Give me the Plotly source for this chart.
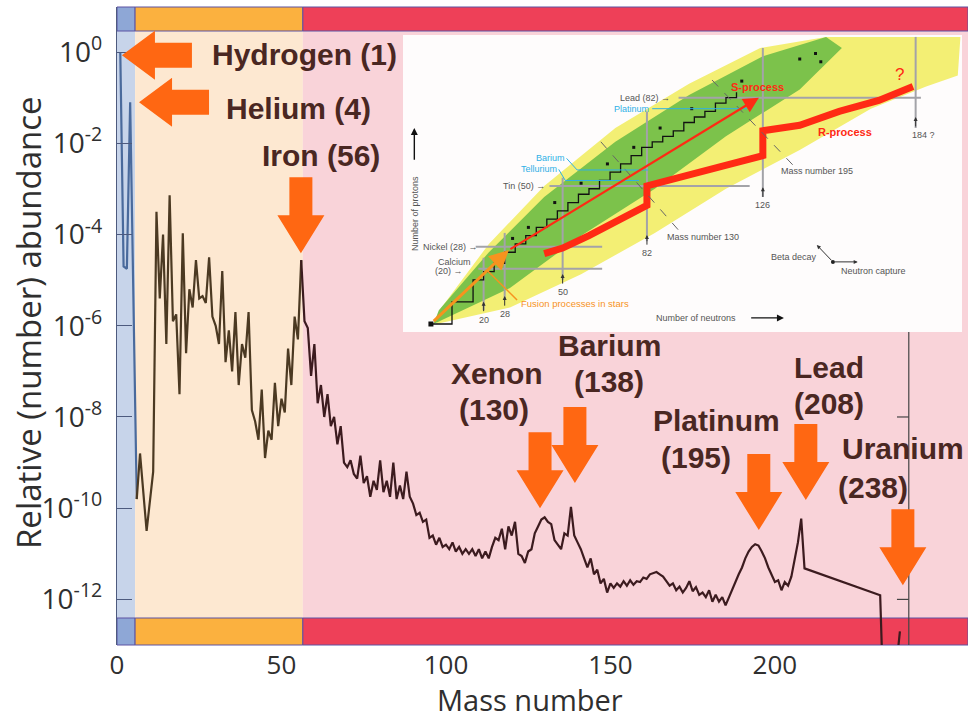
import plotly.graph_objects as go

# ---------------------------------------------------------------------------
# Solar-system abundances: log10(number abundance relative to hydrogen)
# ---------------------------------------------------------------------------
mass_number = [
    1, 2, 3, 4, 6, 7, 9, 10, 11, 12, 13, 14, 15, 16, 17, 18, 19, 20,
    21, 22, 23, 24, 25, 26, 27, 28, 29, 30, 31, 32, 33, 34, 35, 36, 37, 38, 39, 40,
    41, 42, 43, 44, 45, 46, 47, 48, 49, 50, 51, 52, 53, 54, 55, 56, 57, 58, 59, 60,
    61, 62, 63, 64, 65, 66, 67, 68, 69, 70, 71, 72, 73, 74, 75, 76, 77, 78, 79, 80,
    81, 82, 83, 84, 85, 86, 87, 88, 89, 90, 91, 92, 93, 94, 95, 96, 97, 98, 99, 100,
    101, 102, 103, 104, 105, 106, 107, 108, 109, 110, 111, 112, 113, 114, 115, 116, 117, 118, 119, 120,
    121, 122, 123, 124, 125, 126, 127, 128, 129, 130, 131, 132, 133, 134, 135, 136, 137, 138, 139, 140,
    141, 142, 143, 144, 145, 146, 147, 148, 149, 150, 151, 152, 153, 154, 155, 156, 157, 158, 159, 160,
    161, 162, 163, 164, 165, 166, 167, 168, 169, 170, 171, 172, 173, 174, 175, 176, 177, 178, 179, 180,
    181, 182, 183, 184, 185, 186, 187, 188, 189, 190, 191, 192, 193, 194, 195, 196, 197, 198, 199, 200,
    201, 202, 203, 204, 205, 206, 207, 208, 209, 232, 234, 235, 238,
]
log_abundance = [
    0.0, -4.7, -4.75, -1.1, -9.8, -8.8, -10.5, -9.9, -9.2, -3.5, -5.4, -4.0, -6.4, -3.14, -5.9, -5.75, -7.5, -3.97,
    -6.6, -5.2, -5.6, -4.56, -5.4, -5.35, -5.5, -4.5, -5.8, -6.0, -6.4, -4.8, -6.8, -6.1, -7.0, -5.7, -7.3, -6.4, -6.7, -5.7,
    -7.85, -8.1, -8.5, -7.4, -8.9, -8.3, -8.5, -7.25, -8.2, -7.6, -7.9, -6.5, -7.3, -5.8, -6.3, -4.56, -5.9, -6.05, -7.1, -6.4,
    -7.7, -7.3, -8.0, -7.5, -8.2, -8.0, -8.6, -8.2, -9.0, -9.1, -8.95, -9.25, -9.35, -8.85, -9.45, -9.3, -9.75, -9.4, -9.6, -8.95,
    -9.65, -9.4, -9.75, -9.0, -9.8, -9.5, -9.8, -9.2, -9.75, -9.9, -10.15, -10.1, -10.3, -10.25, -10.65, -10.6, -10.8, -10.65, -10.85, -10.8,
    -10.9, -10.75, -10.95, -10.85, -11.0, -10.9, -11.0, -10.9, -11.05, -10.9, -11.1, -10.95, -11.1, -10.85, -10.65, -10.7, -10.45, -10.9, -10.4, -10.6,
    -10.3, -11.0, -11.05, -11.2, -10.95, -10.9, -10.55, -10.4, -10.25, -10.2, -10.3, -10.35, -10.7, -10.8, -10.9, -10.55, -10.6, -9.97, -10.6, -10.75,
    -10.9, -11.1, -11.3, -11.1, -11.45, -11.35, -11.65, -11.55, -11.85, -11.65, -11.75, -11.65, -11.72, -11.6, -11.7, -11.58, -11.68, -11.6, -11.62, -11.52,
    -11.55, -11.45, -11.42, -11.4, -11.45, -11.5, -11.6, -11.7, -11.65, -11.8, -11.72, -11.85, -11.75, -11.6, -11.82, -11.73, -11.9, -11.85, -11.95, -11.8,
    -12.05, -11.9, -12.05, -11.95, -12.13, -11.95, -11.8, -11.6, -11.45, -11.3, -11.1, -10.95, -10.85, -10.79, -10.82, -10.95, -11.1, -11.3, -11.45, -11.62,
    -11.58, -11.8, -11.62, -11.7, -11.5, -11.1, -10.75, -10.23, -11.32, -11.91, -16.5, -14.8, -12.7,
]
abundance = [10 ** v for v in log_abundance]

# nucleosynthesis regions along the mass axis: Big Bang, fusion in stars, neutron capture
region_edges = [0, 5.5, 56.5, 258.7]
region_fill = ["#c7d4ea", "#fde8d1", "#f9d3d9"]
region_band = ["#8ea7d6", "#fbb13f", "#ee4058"]

# labelled elements: name, mass number, arrow tip (mass, log10 abundance), arrow direction
callouts = [
    ("Hydrogen (1)", 1, (1.5, -0.07), "left"),
    ("Helium (4)", 4, (6.7, -1.1), "left"),
    ("Iron (56)", 56, (55.9, -4.41), "down"),
    ("Xenon (130)", 130, (128.6, -10.0), "down"),
    ("Barium (138)", 138, (139.2, -9.45), "down"),
    ("Platinum (195)", 195, (195.1, -10.48), "down"),
    ("Lead (208)", 208, (209.4, -9.82), "down"),
    ("Uranium (238)", 238, (238.9, -11.69), "down"),
]

y_tick_exponents = [0, -2, -4, -6, -8, -10, -12]
x_tick_values = [0, 50, 100, 150, 200]

# ---------------------------------------------------------------------------
# Nuclide-chart inset (neutron number N vs proton number Z)
# ---------------------------------------------------------------------------
broad_band_N = [2, 30, 57, 85, 112, 140, 167, 188, 200, 201, 150, 125, 98, 70, 43, 22, 4]
broad_band_Z = [0, 6, 18, 33, 49, 63, 78, 86, 90, 104, 104, 100, 87, 71, 50, 29, 6]
known_band_N = [1, 30, 57, 85, 112, 140, 156, 150, 126, 98, 70, 43, 22, 3]
known_band_Z = [0, 13, 32, 49, 68, 85, 100, 104, 97, 83, 66, 46, 26, 5]
stable_N = [0, 8, 16, 20, 24, 28, 32, 36, 40, 44, 48, 52, 56, 60, 64, 68, 72, 76, 80, 84, 88, 92, 96, 100, 104, 108, 112, 116]
stable_Z = [0, 8, 16, 19, 22, 26, 29, 32, 35, 38, 41, 44, 47, 49, 52, 55, 58, 61, 64, 66, 68, 70, 73, 75, 77, 80, 82, 84]
stable_dot_N = [31, 37, 47, 57, 67, 77, 87, 99, 140, 146, 148, 118]
stable_dot_Z = [31, 35, 44, 51, 58, 64, 71, 78, 96, 98, 95, 88]
r_path_N = [43, 50, 60, 70, 82, 82, 95, 110, 126, 126, 140, 155, 170, 183]
r_path_Z = [25.5, 27.5, 32, 37, 43, 50, 53, 57, 61, 70, 72, 77, 81, 86]
magic_numbers = [20, 28, 50, 82, 126, 184]

# ---------------------------------------------------------------------------
# geometry
# ---------------------------------------------------------------------------
W, H = 968, 720
ML, MR, MT, MB = 117, 0, 7, 75
PW, PH = W - ML - MR, H - MT - MB
X_RANGE = [region_edges[0], region_edges[-1]]
Y_RANGE = [-13.0, 0.99]


def data_px(a, lg):
    x = ML + (a - X_RANGE[0]) / (X_RANGE[1] - X_RANGE[0]) * PW
    y = MT + (Y_RANGE[1] - lg) / (Y_RANGE[1] - Y_RANGE[0]) * PH
    return x, y


def paper(x, y):
    return (x - ML) / PW, (H - MB - y) / PH


def block_arrow(tip, direction, length, shaft_w, head_w, head_len):
    tx, ty = tip
    if direction == "left":
        ux, uy = 1.0, 0.0
    else:
        ux, uy = 0.0, -1.0
    nx, ny = -uy, ux
    hx, hy = tx + ux * head_len, ty + uy * head_len
    ex, ey = tx + ux * length, ty + uy * length
    pts = [
        (tx, ty),
        (hx + nx * head_w / 2, hy + ny * head_w / 2),
        (hx + nx * shaft_w / 2, hy + ny * shaft_w / 2),
        (ex + nx * shaft_w / 2, ey + ny * shaft_w / 2),
        (ex - nx * shaft_w / 2, ey - ny * shaft_w / 2),
        (hx - nx * shaft_w / 2, hy - ny * shaft_w / 2),
        (hx - nx * head_w / 2, hy - ny * head_w / 2),
    ]
    pp = [paper(x, y) for x, y in pts]
    return "M " + " L ".join(f"{x:.5f},{y:.5f}" for x, y in pp) + " Z"


fig = go.Figure()

# abundance curve, coloured by production site
segments = [
    (1, 6, "#4a6a9c"),
    (6, 56, "#4b3922"),
    (56, 238, "#3c1b1f"),
]
for lo, hi, col in segments:
    xs = [a for a in mass_number if lo <= a <= hi]
    ys = [v for a, v in zip(mass_number, abundance) if lo <= a <= hi]
    fig.add_trace(go.Scatter(x=xs, y=ys, mode="lines", line=dict(color=col, width=2.2),
                             showlegend=False, hoverinfo="skip"))

shapes = []
for i in range(3):
    x0, x1 = region_edges[i], region_edges[i + 1]
    shapes.append(dict(type="rect", xref="x", yref="paper", x0=x0, x1=x1, y0=0, y1=1,
                       fillcolor=region_fill[i], line=dict(width=0), layer="below"))
top_lo = paper(0, 31)[1]
bot_hi = paper(0, 618)[1]
for i in range(3):
    x0, x1 = region_edges[i], region_edges[i + 1]
    for y0, y1 in [(top_lo, 1.0), (0.0, bot_hi)]:
        shapes.append(dict(type="rect", xref="x", yref="paper", x0=x0, x1=x1, y0=y0, y1=y1,
                           fillcolor=region_band[i], line=dict(color="#5c53a3", width=1),
                           layer="below"))

# right-hand axis fragment
rx = 240.7
shapes.append(dict(type="line", xref="x", yref="paper", x0=rx, x1=rx,
                   y0=0, y1=paper(0, 320)[1], line=dict(color="#444", width=1.2), layer="below"))
for e in (-8, -12):
    yy = paper(0, data_px(0, e)[1])[1]
    shapes.append(dict(type="line", xref="x", yref="paper", x0=rx - 3.6, x1=rx, y0=yy, y1=yy,
                       line=dict(color="#444", width=1.2), layer="below"))

# inset panel
ix0, iy1 = paper(403, 35)
ix1, iy0 = paper(962, 332)
shapes.append(dict(type="rect", xref="paper", yref="paper", x0=ix0, x1=ix1, y0=iy0, y1=iy1,
                   fillcolor="#fefcfc", line=dict(width=0), layer="below"))

# block arrows
ARROW_ORANGE = "#ff6712"
for name, a, tip, direction in callouts:
    tpx = data_px(*tip)
    if direction == "left":
        path = block_arrow(tpx, "left", 70, 25, 49, 33)
    else:
        path = block_arrow(tpx, "down", 76, 23, 47, 38)
    shapes.append(dict(type="path", path=path, xref="paper", yref="paper",
                       fillcolor=ARROW_ORANGE, line=dict(width=0), layer="above"))

annotations = []
LABEL_FONT = dict(family="Liberation Sans, Arial", size=30, color="#4a2722")
label_lines = [
    ("<b>Hydrogen (1)</b>", 304, 55),
    ("<b>Helium (4)</b>", 298, 108),
    ("<b>Iron (56)</b>", 321, 155),
    ("<b>Xenon</b>", 497, 374),
    ("<b>(130)</b>", 494, 409),
    ("<b>Barium</b>", 609, 346),
    ("<b>(138)</b>", 609, 381),
    ("<b>Platinum</b>", 716, 421),
    ("<b>(195)</b>", 696, 457),
    ("<b>Lead</b>", 829, 367),
    ("<b>(208)</b>", 829, 403),
    ("<b>Uranium</b>", 903, 449),
    ("<b>(238)</b>", 873, 487),
]
for txt, x, y in label_lines:
    px_, py_ = paper(x, y)
    annotations.append(dict(text=txt, x=px_, y=py_, xref="paper", yref="paper",
                            xanchor="center", yanchor="middle", showarrow=False, font=LABEL_FONT))

AXIS_FONT = dict(family="Open Sans", size=33, color="#2f2f2f")
tx_, ty_ = paper(530, 699)
annotations.append(dict(text="Mass number", x=tx_, y=ty_, xref="paper", yref="paper",
                        showarrow=False, xanchor="center", yanchor="middle", font=dict(AXIS_FONT, size=29)))
tx_, ty_ = paper(28, 323)
annotations.append(dict(text="Relative (number) abundance", x=tx_, y=ty_, xref="paper", yref="paper",
                        showarrow=False, xanchor="center", yanchor="middle", textangle=-90,
                        font=AXIS_FONT))

# ---------------- inset contents ----------------
inset = dict(xaxis="x2", yaxis="y2", showlegend=False, hoverinfo="skip")
fig.add_trace(go.Scatter(x=broad_band_N, y=broad_band_Z, fill="toself", fillcolor="#f3ef74",
                         mode="lines", line=dict(width=0), **inset))
fig.add_trace(go.Scatter(x=known_band_N, y=known_band_Z, fill="toself", fillcolor="#7cc24b",
                         mode="lines", line=dict(width=0), **inset))

# magic-number guide lines
mag_h = [(20, 18, 65), (28, 17, 65), (50, 45, 121), (82, 94, 186)]
mag_v = [(20, 5, 24), (28, 9, 33), (50, 16, 53), (82, 30, 77), (126, 46, 100), (184, 71, 104)]
gx, gy = [], []
for z, n0, n1 in mag_h:
    gx += [n0, n1, None]
    gy += [z, z, None]
for n, z0, z1 in mag_v:
    gx += [n, n, None]
    gy += [z0, z1, None]
fig.add_trace(go.Scatter(x=gx, y=gy, mode="lines", line=dict(color="#a3a3a8", width=2), **inset))

fig.add_trace(go.Scatter(x=stable_N, y=stable_Z, mode="lines", line=dict(color="#111", width=1.3, shape="hv"),
                         **inset))
fig.add_trace(go.Scatter(x=stable_dot_N, y=stable_dot_Z, mode="markers",
                         marker=dict(color="#111", size=3, symbol="square"), **inset))
fig.add_trace(go.Scatter(x=r_path_N, y=r_path_Z, mode="lines", line=dict(color="#ff2a14", width=7), **inset))

# mass-number diagonals
fig.add_trace(go.Scatter(x=[64.5, 94, None, 106.7, 137.4], y=[66, 34, None, 88.4, 57.6], mode="lines",
                         line=dict(color="#666", width=1, dash="dash"), **inset))
# cyan pointers
fig.add_trace(go.Scatter(x=[84, 120, None, 51.5, 55.5, 82.5, None, 48.5, 51, 79],
                         y=[78, 78, None, 60, 55.8, 55.8, None, 56, 52, 52], mode="lines",
                         line=dict(color="#2fb0e6", width=1), **inset))
# fusion pointer
fig.add_trace(go.Scatter(x=[32.7, 21.6], y=[8.7, 19.2], mode="lines",
                         line=dict(color="#f7931e", width=1.5), **inset))

SMALL = dict(family="Liberation Sans, Arial", size=9, color="#555")


def inset_text(text, n, z, anchor="center", font=SMALL, angle=0):
    annotations.append(dict(text=text, x=n, y=z, xref="x2", yref="y2", showarrow=False,
                            xanchor=anchor, yanchor="middle", font=font, textangle=angle))


def inset_arrow(n0, z0, n1, z1, color, width, head=2, size=1.0):
    annotations.append(dict(x=n1, y=z1, ax=n0, ay=z0, xref="x2", yref="y2", axref="x2", ayref="y2",
                            text="", showarrow=True, arrowhead=head, arrowsize=size,
                            arrowwidth=width, arrowcolor=color))


inset_arrow(0.5, 0.5, 29.6, 26.8, "#f7931e", 3, head=2, size=1.3)
inset_arrow(29.6, 26.8, 124.5, 82, "#ff2a14", 2.2, head=2, size=1.4)

inset_text("Lead (82) →", 91.5, 82, "right")
inset_text("Platinum", 83.5, 78, "right", dict(SMALL, color="#2fb0e6"))
inset_text("Barium", 51.5, 60, "right", dict(SMALL, color="#2fb0e6"))
inset_text("Tellurium", 48.5, 56, "right", dict(SMALL, color="#2fb0e6"))
inset_text("Tin (50) →", 44, 50, "right")
inset_text("Nickel (28) →", 18.6, 28, "right")
inset_text("Calcium", 9, 22.6)
inset_text("(20) →", 13, 19.2, "right")
tick_label_pos = {20: 1.6, 28: 3.6, 50: 11.6, 82: 25.7, 126: 43, 184: 68.5}
for n in magic_numbers:
    zl = tick_label_pos[n]
    inset_text(str(n) if n != 184 else "184 ?", n if n != 184 else n + 3, zl)
    inset_arrow(n, zl + 2.5, n, zl + 6.5, "#333", 1, head=2, size=0.8)
inset_text("Mass number 130", 89, 31.5, "left")
inset_text("Mass number 195", 132, 55.5, "left")
inset_text("<b>S-process</b>", 124, 86, "center", dict(family="Liberation Sans, Arial", size=11, color="#ff2a14"))
inset_text("<b>R-process</b>", 157, 69.6, "center", dict(family="Liberation Sans, Arial", size=11, color="#ff2a14"))
inset_text("?", 178, 90.5, "center", dict(family="Liberation Sans, Arial", size=17, color="#ff2a14"))
inset_text("Fusion processes in stars", 33.5, 7.6, "left", dict(family="Liberation Sans, Arial", size=9.5, color="#f7931e"))
inset_text("Beta decay", 138, 24.3)
inset_text("Neutron capture", 168, 19.2)
inset_arrow(152.6, 22.5, 146.5, 28.6, "#333", 1, head=2, size=0.8)
inset_arrow(152.6, 22.5, 162, 22.5, "#333", 1, head=2, size=0.8)
fig.add_trace(go.Scatter(x=[152.6], y=[22.5], mode="markers", marker=dict(color="#222", size=4), **inset))
fig.add_trace(go.Scatter(x=[0], y=[0], mode="markers", marker=dict(color="#111", size=5, symbol="square"), **inset))
inset_text("Number of neutrons", 100.5, 2.2)
inset_arrow(121, 2.2, 134, 2.2, "#111", 1.4, head=2, size=1.0)
inset_text("Number of protons", -6.3, 40, "center", angle=-90)
inset_arrow(-6.3, 59, -6.3, 71, "#111", 1.4, head=2, size=1.0)

fig.update_layout(
    width=W, height=H,
    margin=dict(l=ML, r=MR, t=MT, b=MB),
    paper_bgcolor="white", plot_bgcolor="rgba(0,0,0,0)",
    showlegend=False,
    shapes=shapes, annotations=annotations,
    xaxis=dict(range=X_RANGE, tickvals=x_tick_values, ticks="", showgrid=False, zeroline=False,
               showline=False, ticklabelstandoff=2,
               tickfont=dict(family="Open Sans", size=26, color="#2f2f2f")),
    yaxis=dict(type="log", range=Y_RANGE, showgrid=False, zeroline=False,
               tickvals=[10 ** e for e in y_tick_exponents],
               ticktext=[f"10<sup>{e}</sup>" for e in y_tick_exponents],
               ticks="inside", ticklen=15, tickwidth=1.3, tickcolor="#4d5a7e",
               showline=True, linecolor="#4d5a7e", linewidth=1.2, ticklabelstandoff=8,
               tickfont=dict(family="Open Sans", size=28, color="#2f2f2f")),
    xaxis2=dict(domain=[ix0, ix1], range=[-10.6, 201.6], visible=False, anchor="y2", fixedrange=True),
    yaxis2=dict(domain=[iy0, iy1], range=[-2.9, 104.7], visible=False, anchor="x2", fixedrange=True),
)

fig.write_html("out.html")
